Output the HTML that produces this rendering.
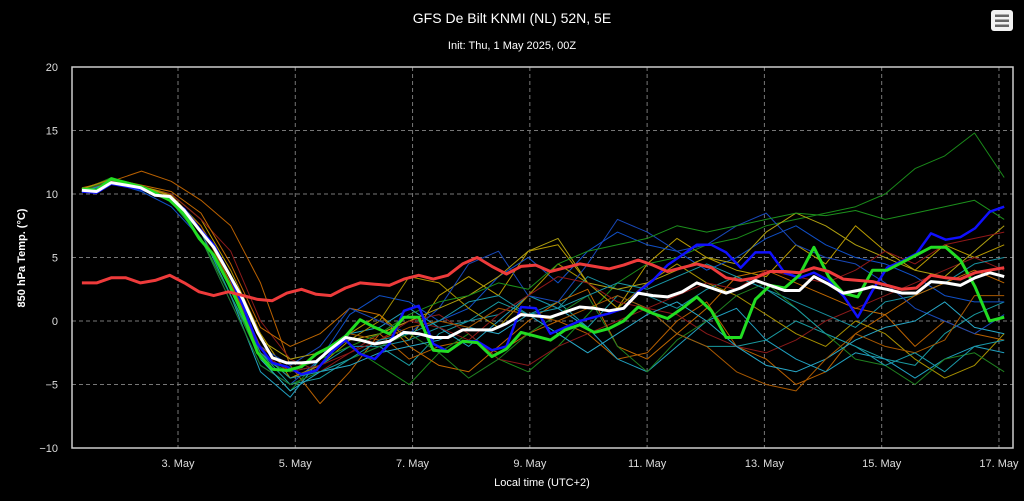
<!DOCTYPE html>
<html><head><meta charset="utf-8">
<style>
html,body{margin:0;padding:0;background:#000;}
svg{display:block;font-family:"Liberation Sans",sans-serif;}
</style></head>
<body>
<svg id="chart" width="1024" height="501" viewBox="0 0 1024 501">
<rect x="0" y="0" width="1024" height="501" fill="#000"/>
<text x="512" y="23" fill="#fff" font-size="14" text-anchor="middle">GFS De Bilt KNMI (NL) 52N, 5E</text>
<text x="512" y="49" fill="#fff" font-size="11" text-anchor="middle">Init: Thu, 1 May 2025, 00Z</text>
<g>
<rect x="991" y="10" width="22" height="21" rx="3" fill="#f2f2f2"/>
<rect x="995" y="14.5" width="14" height="2.5" fill="#666"/>
<rect x="995" y="19.5" width="14" height="2.5" fill="#666"/>
<rect x="995" y="24.5" width="14" height="2.5" fill="#666"/>
</g>
<g id="grid"></g>
<g id="members"></g>
<g id="main"></g>
<g id="axes"></g>
<text transform="translate(25,258) rotate(-90)" fill="#fff" font-size="11" font-weight="bold" text-anchor="middle">850 hPa Temp. (°C)</text>
<text x="542" y="486" fill="#fff" font-size="11" text-anchor="middle">Local time (UTC+2)</text>
</svg>
<script>
const yTicks = [20,15,10,5,0,-5,-10];
const xTickDays = [3,5,7,9,11,13,15,17];
const xTickLabels = ["3. May","5. May","7. May","9. May","11. May","13. May","15. May","17. May"];
const tStart = 1.362, tEnd = 17.09;

const meanSeries = [10.3,10.2,10.9,10.7,10.5,9.9,9.8,8.7,7.2,5.8,3.8,1.7,-0.9,-2.9,-3.3,-3.3,-3.2,-2.2,-1.3,-1.5,-1.8,-1.6,-0.9,-1.0,-1.3,-1.3,-0.7,-0.7,-0.7,-0.2,0.5,0.4,0.3,0.7,1.1,1.0,0.8,1.0,2.2,2.0,1.9,2.3,3.0,2.6,2.2,2.6,3.2,2.8,2.4,2.4,3.5,2.9,2.2,2.4,2.7,2.5,2.2,2.2,3.1,3.0,2.8,3.4,3.8,3.5];
const climateSeries = [3.0,3.0,3.4,3.4,3.0,3.2,3.6,3.0,2.3,2.0,2.3,2.0,1.7,1.6,2.2,2.5,2.1,2.0,2.6,3.0,2.9,2.8,3.3,3.6,3.3,3.6,4.5,5.0,4.3,3.7,4.3,4.4,3.9,4.2,4.5,4.3,4.1,4.4,4.8,4.4,3.9,4.2,4.5,4.2,3.4,3.2,3.4,3.9,3.9,3.8,4.2,3.9,3.3,3.2,3.1,2.8,2.5,2.6,3.6,3.4,3.3,3.8,4.0,4.2];
const controlSeries = [10.4,10.3,11.2,10.9,10.6,10.1,9.5,8.4,6.5,5.2,3.0,0.5,-2.5,-3.8,-3.9,-3.6,-2.6,-2.0,-1.2,0.1,-0.5,-1.0,0.3,0.3,-2.3,-2.4,-1.6,-1.7,-2.8,-2.2,-0.9,-1.2,-1.5,-0.7,-0.3,-0.9,-0.6,0.0,1.1,0.6,0.2,1.0,1.9,0.8,-1.3,-1.3,1.7,2.8,2.6,3.6,5.8,3.5,2.2,1.9,4.0,4.0,4.6,5.2,5.8,5.8,4.8,2.7,0.0,0.3];
const operSeries = [10.2,10.1,10.8,10.6,10.4,10.0,9.6,8.8,7.3,6.0,3.8,1.2,-1.8,-3.3,-3.6,-4.2,-3.9,-2.5,-1.5,-2.6,-3.0,-1.8,0.8,1.2,-1.8,-2.4,-1.6,-1.6,-2.3,-2.0,1.1,1.0,-1.0,-0.5,0.0,0.3,0.6,1.0,2.3,3.2,4.4,5.2,6.0,6.0,5.4,4.2,5.4,5.4,3.8,3.4,3.8,3.2,2.0,0.3,2.4,4.2,4.7,5.3,6.9,6.4,6.6,7.3,8.6,9.0];

const memberColors = ["#b89a00","#1a9aa0","#b86000","#1a8a1a","#1050c8","#8a1a1a","#20a0c0","#a89000","#1890a0","#c06800","#208020","#1848b8","#b0a010","#28a8c8","#a85800","#901818","#1c901c","#1a98a8"];
const m0 = [10.4,11.2,10.6,10,8,4,-1,-4.5,-3.5,-1,0.5,-1.5,2,3.5,2,5.5,6,3,1,4.5,6.5,5,4,3.5,6,4.5,7.5,5.5,4,6,5,6];
const m1 = [10.2,11,10.4,9.5,7,2.5,-2.5,-5,-4.5,-3,-2,-3.5,-1,0,1.5,0.5,1.5,-0.5,2,1,-1,-2,-2,-1.5,0,-1,-2,-3,-3.5,-1,0.5,1.5];
const m2 = [10.5,11,11.8,11,9.5,7.5,3,-3.5,-6.5,-4,-1,-3,-2,-1.5,-2.5,-1,0,-1,-3,-2.5,0,1.5,-2,-3,-5,-4,-1,0.5,-2,0,-1,-1.5];
const m3 = [10.3,11.3,10.5,9.6,7,2.5,-3,-5.5,-3,-2,-3.5,-5,-2.5,-1,-3,-4,-2,0.5,3,4.5,5,6,6.5,7.5,8,8.5,9,10,12,13,14.8,11.3];
const m4 = [10.1,10.9,10.2,9,6.5,1.5,-3.5,-5,-3,0.5,2,1.5,0,1,3.5,5,3,5.5,7,6,5.5,4,5,6.5,7.5,6,5,4.5,3.5,2,1.5,1.5];
const m5 = [10.3,11,10.5,10,8,5.5,0,-3,-4,-2.5,-1,0,0.5,-1,-3,-3.5,-2,-1,0,1,0.5,-1,-2,-2.5,-1.5,0,1,2,3,4,5,4];
const m6 = [10.2,10.9,10.4,9.4,6.5,2,-4,-6,-3,-1,-0.5,1,-0.5,-2,0,2,1,-0.5,-3,-4,-2,0,1,-1.5,-3,-4,-2.5,-3,-4.5,-3,-2,-2.5];
const m7 = [10.4,11,10.6,9.8,7.5,3,-2.5,-4.5,-3.5,-1.5,0,3.5,3,1,-0.5,2,4.5,3,1,3,4.5,3,2,0.5,-1,-2,0,-1,-3,-4.5,-3.5,-1];
const m8 = [10.3,11,10.5,9.5,7,2,-3,-4,-3.5,-2,-2,-1.5,-0.5,0,0.5,2,1,3.5,2.5,2,1,2.5,3.5,2.5,1.5,0.5,-0.5,1.5,2,3,4.5,5];
const m9 = [10.4,11.2,10.7,10.2,8.5,4.5,-0.5,-2,-1,1,0.5,-2,-3.5,-4,-2,0,1.5,2.5,-2,-3,-1,1,3.5,4,3,2,1,0.5,2,3,4,3];
const m10 = [10.2,11,10.3,9.5,6.5,1.5,-3.5,-5,-4,-3,-2,-1,-2.5,-4.5,-3,-1,0.5,2,-2,-4,-1.5,0,2,3,1,-1,-3,-3.5,-5,-3,-2.5,-4];
const m11 = [10.2,10.9,10.4,9.7,7,2.5,-2,-3.5,-2,1,0,-1,1,4.5,5.5,2,1.5,4.5,8,7,5.5,6,7.5,8.5,6,5,4.5,3,1,0,-1,0.5];
const m12 = [10.4,11.1,10.6,9.9,7.5,3.5,-1.5,-3,-2.5,-1.5,-1,0,1,2,3.5,5.5,6.5,3,2.5,3,4,5,4.5,7,8.5,7.5,6,5,4,3.5,5.5,7.5];
const m13 = [10.3,11,10.4,9.5,6.5,2,-3,-5.5,-4,-3.5,-2.5,-2,-1.5,-0.5,-1,0.5,-1,-2.5,-1,0.5,1.5,0,-2,-3.5,-4,-3,-1.5,-0.5,0,1.5,-0.5,-1];
const m14 = [10.3,11,10.4,9.6,7.5,3,-2,-4,-2.5,-1,-1.5,-0.5,0,-0.5,1,0.5,0,1,2,1,-1,-2,-4,-5,-5.5,-3,-1,-2,-2.5,-1.5,2,2];
const m15 = [10.3,11,10.5,9.7,7,2.5,-2.5,-4,-3.5,-2.5,-1.5,0,-0.5,-1.5,0.5,2,3.5,3,1.5,1,2,3,2.5,4,3.5,3,4,5.5,4.5,6,6.5,7];
const m16 = [10.3,11.1,10.4,9.4,6.5,2,-3,-4,-3,-2,-1,0.5,1.5,2,3,2.5,4.5,5.5,6,6.5,7.5,7,7.5,8,8.5,8.3,8.7,8,8.5,9,9.5,8];
const m17 = [10.2,10.9,10.3,9.6,7,2,-2.5,-4.5,-4,-3,-1.5,-1,0,1.5,2,0.5,1,2,3,2.5,3.5,4.5,3.5,2.5,1,-1,-2,-3.5,-2.5,-4,-2,-1.5];
const members = [m0,m1,m2,m3,m4,m5,m6,m7,m8,m9,m10,m11,m12,m13,m14,m15,m16,m17];

const NS = "http://www.w3.org/2000/svg";
const PL = 72, PR = 1013, PT = 67, PB = 448;
function yPx(v){ return PT + (20 - v) * (PB - PT) / 30; }
function xPx(day){ return 178 + (day - 3) * 58.64; }
function pts(vals){
  const n = vals.length;
  return vals.map((v,i)=>{
    const t = tStart + (tEnd - tStart) * i / (n - 1);
    return xPx(t).toFixed(1) + "," + yPx(v).toFixed(1);
  }).join(" ");
}
function mk(tag, attrs, parent){
  const el = document.createElementNS(NS, tag);
  for (const k in attrs) el.setAttribute(k, attrs[k]);
  parent.appendChild(el);
  return el;
}
const grid = document.getElementById("grid");
const axes = document.getElementById("axes");
yTicks.forEach(v=>{
  if (v !== 20 && v !== -10) {
    const l = mk("line",{x1:PL,x2:PR,y1:yPx(v),y2:yPx(v),stroke:"#777","stroke-dasharray":"4,3","stroke-width":1},grid);
    
    
  }
  const t = mk("text",{x:58,y:yPx(v)+4,fill:"#ddd","font-size":11,"text-anchor":"end"},axes);
  t.textContent = v < 0 ? "\u2212" + Math.abs(v) : String(v);
  
  
});
xTickDays.forEach((d,i)=>{
  const l = mk("line",{x1:xPx(d),x2:xPx(d),y1:PT,y2:PB,stroke:"#777","stroke-dasharray":"4,3","stroke-width":1},grid);
  
  
  const t = mk("text",{x:xPx(d),y:467,fill:"#ddd","font-size":11,"text-anchor":"middle"},axes);
  t.textContent = xTickLabels[i];
  
  
});
const frame = mk("rect",{x:PL,y:PT,width:PR-PL,height:PB-PT,fill:"none",stroke:"#ccc","stroke-width":1.5},axes);



const mg = document.getElementById("members");
members.forEach((m,i)=>{
  const p = mk("polyline",{points:pts(m),fill:"none",stroke:memberColors[i % memberColors.length],"stroke-width":1,"stroke-linejoin":"round"},mg);
  
  
});
const mainG = document.getElementById("main");
const mainDefs = [[operSeries,"#1010ff",2.5,"operational-line"],[controlSeries,"#22dd22",3,"control-line"],[meanSeries,"#ffffff",3,"ensemble-mean-line"],[climateSeries,"#ee3b3b",3,"climatology-line"]];
mainDefs.forEach(d=>{
  const p = mk("polyline",{points:pts(d[0]),fill:"none",stroke:d[1],"stroke-width":d[2],"stroke-linejoin":"round"},mainG);
  
  
});
</script>
</body></html>
